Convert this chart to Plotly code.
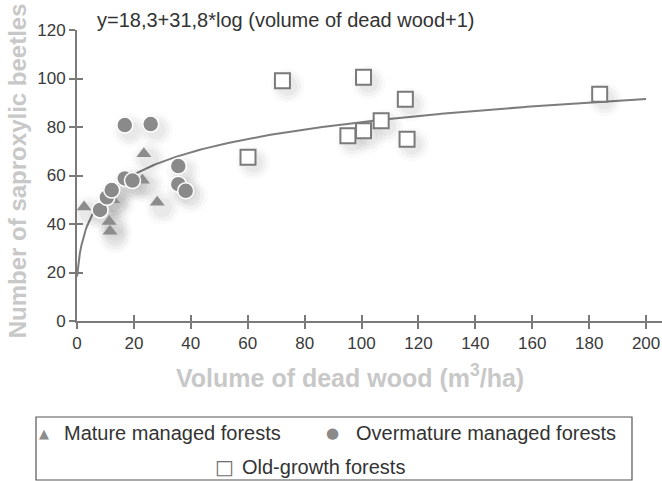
import numpy as np
import plotly.graph_objects as go

# Mature managed forests
mature_x = [2.5, 11.3, 11.6, 23.5, 28.2, 23.0, 12.5]
mature_y = [47, 41, 37, 69, 49, 58, 50]

# Overmature managed forests
over_x = [16.8, 25.9, 35.6, 35.6, 38.2, 8.1, 10.5, 12.2, 16.8, 19.5]
over_y = [80.8, 81.2, 63.9, 56.4, 53.7, 45.8, 51.0, 54.0, 58.8, 57.9]

# Old-growth forests
old_x = [60.1, 72.2, 95.2, 100.7, 100.7, 106.9, 115.4, 116.0, 183.7]
old_y = [67.5, 99.1, 76.4, 78.5, 100.5, 82.6, 91.4, 75.0, 93.5]

# Fitted curve: y = a + b*log10(x + 1)
fit_a, fit_b = 18.3, 31.8
fit_x = np.linspace(0, 200, 401)
fit_y = fit_a + fit_b * np.log10(fit_x + 1)

x_ticks = list(range(0, 201, 20))
y_ticks = list(range(0, 121, 20))

X_RANGE = [0, 205.6]
Y_RANGE = [0, 120]

FONT = "Liberation Sans, Arial, sans-serif"
AXIS = "#7a7a7a"
TICKFONT = dict(family=FONT, size=17, color="#3a3a3a")
TITLECOLOR = "#c8c8c8"
TEXTCOLOR = "#333333"

fig = go.Figure()

fig.add_trace(go.Scatter(
    x=fit_x, y=fit_y, mode="lines", line=dict(color="#7d7d7d", width=2),
    showlegend=False, hoverinfo="skip"))

# soft drop shadows: same points on a hidden, slightly shifted copy of the axes
shadow_x = mature_x + over_x + old_x
shadow_y = mature_y + over_y + old_y
for size, alpha in [(34, 0.02), (27, 0.03), (20, 0.035)]:
    fig.add_trace(go.Scatter(
        x=shadow_x, y=shadow_y, xaxis="x2", yaxis="y2", mode="markers",
        marker=dict(symbol="circle", size=size, color=f"rgba(0,0,0,{alpha})",
                    line=dict(width=0)),
        showlegend=False, hoverinfo="skip", cliponaxis=False))

# data markers on the top overlay, which also carries the inner tick halves
fig.add_trace(go.Scatter(
    x=mature_x, y=mature_y, xaxis="x3", yaxis="y3", mode="markers",
    name="Mature managed forests",
    marker=dict(symbol="triangle-up", size=13, color="#8c8c8c",
                line=dict(width=0)), cliponaxis=False))

fig.add_trace(go.Scatter(
    x=over_x, y=over_y, xaxis="x3", yaxis="y3", mode="markers",
    name="Overmature managed forests",
    marker=dict(symbol="circle", size=16, color="#8a8a8a",
                line=dict(width=1.5, color="white")), cliponaxis=False))

fig.add_trace(go.Scatter(
    x=old_x, y=old_y, xaxis="x3", yaxis="y3", mode="markers",
    name="Old-growth forests",
    marker=dict(symbol="square", size=15, color="white",
                line=dict(width=2, color="#7a7a7a")), cliponaxis=False))

# fitted equation
fig.add_annotation(
    text="y=18,3+31,8*log (volume of dead wood+1)",
    xref="paper", yref="paper", x=0.03, y=1.035, xanchor="left", yanchor="middle",
    showarrow=False, font=dict(family=FONT, size=20, color=TEXTCOLOR))

# axis titles
fig.add_annotation(
    text="<b>Volume of dead wood (m<sup>3</sup>/ha)</b>",
    xref="paper", yref="paper", x=0.467, y=-0.189, xanchor="center",
    yanchor="middle", showarrow=False,
    font=dict(family=FONT, size=25, color=TITLECOLOR))
fig.add_annotation(
    text="<b>Number of saproxylic beetles</b>", textangle=-90,
    xref="paper", yref="paper", x=-0.1026, y=0.518, xanchor="center",
    yanchor="middle", showarrow=False,
    font=dict(family=FONT, size=24, color=TITLECOLOR))

# legend box
fig.add_shape(type="rect", xref="paper", yref="paper",
              x0=-0.0701, x1=0.9487, y0=-0.5464, y1=-0.3299,
              line=dict(color="#555555", width=1.2), fillcolor="white")

legend_items = [
    # (glyph, glyph size, glyph colour, glyph x, label, label x, row y)
    ("▲", 13, "#8c8c8c", -0.0564, "Mature managed forests", -0.0256, -0.3849),
    ("●", 15, "#8a8a8a", 0.4376, "Overmature managed forests", 0.4735, -0.3849),
    ("□", 20, "#6f6f6f", 0.2513, "Old-growth forests", 0.2786, -0.5017),
]
for glyph, gsize, gcol, gx, label, lx, ly in legend_items:
    fig.add_annotation(text=glyph, xref="paper", yref="paper", x=gx, y=ly,
                       xanchor="center", yanchor="middle", showarrow=False,
                       font=dict(family="DejaVu Sans", size=gsize, color=gcol))
    fig.add_annotation(text=label, xref="paper", yref="paper", x=lx, y=ly,
                       xanchor="left", yanchor="middle", showarrow=False,
                       font=dict(family=FONT, size=20, color=TEXTCOLOR))

tick_common = dict(tickcolor=AXIS, tickwidth=1.5, ticklen=6, showgrid=False,
                   zeroline=False)

# shadow offset, in axis units (right and down)
SHADOW_DX, SHADOW_DY = 1.8, 2.2

fig.update_layout(
    width=662, height=481,
    margin=dict(l=77, r=0, t=30, b=160),
    paper_bgcolor="white", plot_bgcolor="white",
    showlegend=False,
    xaxis=dict(range=X_RANGE, tickvals=x_ticks, ticks="outside", showline=True,
               linecolor=AXIS, linewidth=2, tickfont=TICKFONT, **tick_common),
    yaxis=dict(range=Y_RANGE, tickvals=y_ticks, ticks="outside", showline=True,
               linecolor=AXIS, linewidth=2, tickfont=TICKFONT, **tick_common),
    xaxis2=dict(range=[X_RANGE[0] - SHADOW_DX, X_RANGE[1] - SHADOW_DX],
                overlaying="x", anchor="y", visible=False),
    yaxis2=dict(range=[Y_RANGE[0] + SHADOW_DY, Y_RANGE[1] + SHADOW_DY],
                overlaying="y", anchor="x", visible=False),
    xaxis3=dict(range=X_RANGE, overlaying="x", anchor="y", side="bottom",
                tickvals=x_ticks, ticks="inside", showticklabels=False,
                showline=False, **tick_common),
    yaxis3=dict(range=Y_RANGE, overlaying="y", anchor="x", side="left",
                tickvals=y_ticks, ticks="inside", showticklabels=False,
                showline=False, **tick_common),
)

fig.write_html("out.html")
